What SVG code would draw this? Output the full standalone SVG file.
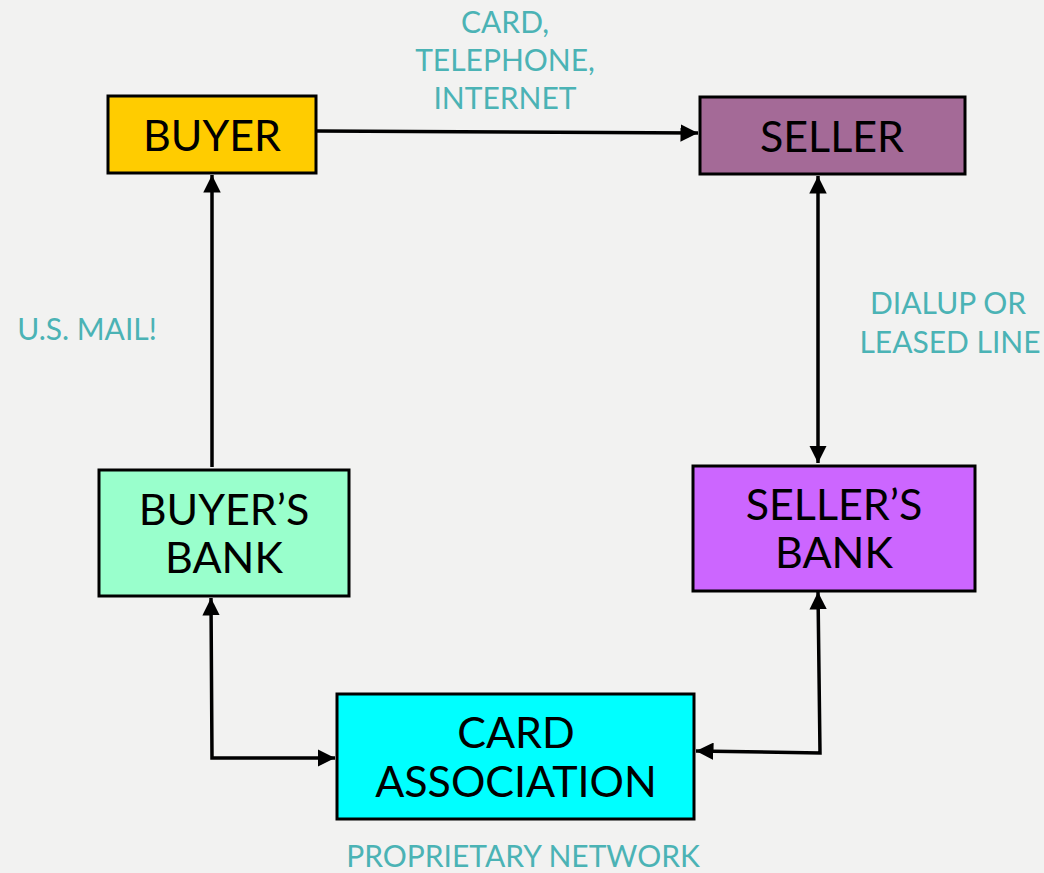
<svg xmlns="http://www.w3.org/2000/svg" width="1044" height="873" viewBox="0 0 1044 873">
  <defs>
    <marker id="arrow" viewBox="0 0 10 10" refX="10" refY="5" markerWidth="5" markerHeight="5" orient="auto-start-reverse" markerUnits="strokeWidth">
      <path d="M0,0 L10,5 L0,10 Z" fill="#000"/>
    </marker>
  </defs>
  <style>
    .box { stroke: #000; stroke-width: 3; }
    .node-text { font-family: Lato, "Liberation Sans", sans-serif; font-size: 43px; fill: #000; text-anchor: middle; }
    .label { font-family: Lato, "Liberation Sans", sans-serif; font-size: 30px; fill: #4BB3B5; text-anchor: middle; }
    .wire { fill: none; stroke: #000; stroke-width: 3.5; }
  </style>
  <rect width="1044" height="873" fill="#F2F2F1"/>

  <g id="buyer">
    <rect class="box" x="108" y="96" width="208" height="77" fill="#FFCC00"/>
    <text class="node-text" x="212" y="151">BUYER</text>
  </g>
  <g id="seller">
    <rect class="box" x="700" y="97" width="265" height="77" fill="#A46A97"/>
    <text class="node-text" x="832" y="152">SELLER</text>
  </g>
  <g id="buyers-bank">
    <rect class="box" x="99" y="470" width="250" height="126" fill="#99FFCC"/>
    <text class="node-text" x="224" y="525">BUYER’S</text>
    <text class="node-text" x="224" y="573">BANK</text>
  </g>
  <g id="sellers-bank">
    <rect class="box" x="693" y="466" width="282" height="125" fill="#CC66FF"/>
    <text class="node-text" x="834" y="520">SELLER’S</text>
    <text class="node-text" x="834" y="568">BANK</text>
  </g>
  <g id="card-association">
    <rect class="box" x="337" y="694" width="357" height="125" fill="#00FFFF"/>
    <text class="node-text" x="516" y="748">CARD</text>
    <text class="node-text" x="516" y="797">ASSOCIATION</text>
  </g>

  <g id="connectors">
    <path class="wire" d="M317,131 L698,133" marker-end="url(#arrow)"/>
    <path class="wire" d="M212,467 L212,175" marker-end="url(#arrow)"/>
    <path class="wire" d="M818,176 L818,463" marker-start="url(#arrow)" marker-end="url(#arrow)"/>
    <path class="wire" d="M211,598 L212,758 L335,758" marker-start="url(#arrow)" marker-end="url(#arrow)"/>
    <path class="wire" d="M818,592 L820,753 L696,751" marker-start="url(#arrow)" marker-end="url(#arrow)"/>
  </g>

  <g id="labels">
    <text class="label" x="505" y="33">CARD,</text>
    <text class="label" x="505" y="71">TELEPHONE,</text>
    <text class="label" x="505" y="109">INTERNET</text>
    <text class="label" x="87" y="340">U.S. MAIL!</text>
    <text class="label" x="948" y="314">DIALUP OR</text>
    <text class="label" x="950" y="353">LEASED LINE</text>
    <text class="label" x="523" y="867">PROPRIETARY NETWORK</text>
  </g>
</svg>
